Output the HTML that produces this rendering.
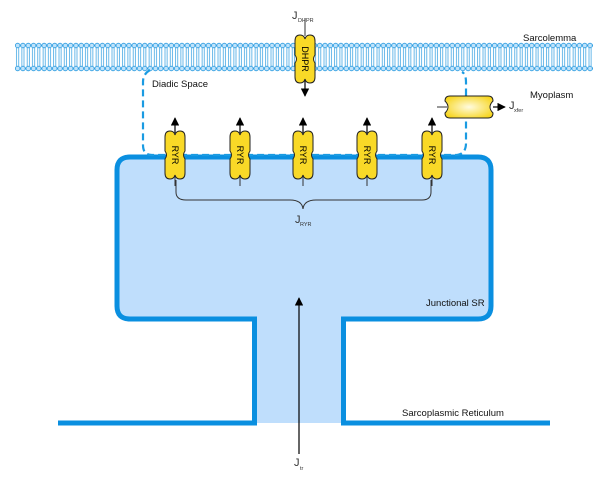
<!DOCTYPE html>
<html><head><style>
html,body{margin:0;padding:0;background:#fff;}
svg{display:block;font-family:"Liberation Sans",sans-serif;}
</style></head><body>
<svg width="615" height="486" viewBox="0 0 615 486" xmlns="http://www.w3.org/2000/svg">
<defs>
<pattern id="lip" x="15" y="0" width="5.3" height="486" patternUnits="userSpaceOnUse">
<circle cx="2.65" cy="45.5" r="2.3" fill="#bfe3fb" stroke="#2a9be0" stroke-width="0.8"/>
<circle cx="2.65" cy="68.5" r="2.3" fill="#bfe3fb" stroke="#2a9be0" stroke-width="0.8"/>
<path d="M1.6 48 V58 M3.7 48 V58 M1.6 56 V66 M3.7 56 V66" stroke="#2a9be0" stroke-width="0.7" fill="none"/>
</pattern>
<radialGradient id="yg" cx="0.5" cy="0.5" r="0.6"><stop offset="0" stop-color="#fffbe0"/><stop offset="1" stop-color="#f7d51c"/></radialGradient>
<marker id="ah" viewBox="0 0 10 10" refX="9" refY="5" markerWidth="7" markerHeight="7" orient="auto"><path d="M0 0 L10 5 L0 10z" fill="#000"/></marker>
<g id="chan"><path d="M-10 -18 Q-10 -24 -5 -24 Q-1 -24 0 -20 Q1 -24 5 -24 Q10 -24 10 -18 V-4 Q8.5 -2 8.5 0 Q8.5 2 10 4 V18 Q10 24 5 24 Q1 24 0 20 Q-1 24 -5 24 Q-10 24 -10 18 V4 Q-8.5 2 -8.5 0 Q-8.5 -2 -10 -4 Z" fill="#f9d927" stroke="#222" stroke-width="1"/></g>
</defs>
<!-- membrane -->
<rect x="15" y="42" width="578" height="30" fill="url(#lip)"/>
<!-- SR fill -->
<path d="M130 157 H478 Q491 157 491 170 V306 Q491 319 478 319 H343.5 V423 H254.5 V319 H130 Q117 319 117 306 V170 Q117 157 130 157 Z" fill="#bfdefc" stroke="none"/>
<path d="M130 157 H478 Q491 157 491 170 V306 Q491 319 478 319 H343.5 V423 H550" fill="none" stroke="#0a8fe0" stroke-width="5"/>
<path d="M58 423 H254.5 V319 H130 Q117 319 117 306 V170 Q117 157 130 157" fill="none" stroke="#0a8fe0" stroke-width="5"/>
<!-- dashed diadic -->
<path d="M150 70 Q143 74 143 82 V145 Q143 155 152 155 H455 Q466 155 466 143 V82 Q466 74 462 72" fill="none" stroke="#1a9be2" stroke-width="2.2" stroke-dasharray="7,4"/>
<!-- DHPR -->
<line x1="305" y1="18" x2="305" y2="36" stroke="#333" stroke-width="1"/>
<line x1="305" y1="80" x2="305" y2="96" stroke="#000" stroke-width="1.2" marker-end="url(#ah)"/>
<use href="#chan" x="305" y="59"/>
<text x="305" y="59" font-size="9" text-anchor="middle" transform="rotate(90 305 59)" dy="3">DHPR</text>
<text x="292" y="19" font-size="11" fill="#333">J</text><text x="298" y="22" font-size="5.5" fill="#333">DHPR</text>
<!-- RYRs -->
<g font-size="9" text-anchor="middle">
<g transform="translate(175,0)"><line x1="0" y1="176" x2="0" y2="186" stroke="#333"/><line x1="0" y1="133" x2="0" y2="118" stroke="#000" stroke-width="1.2" marker-end="url(#ah)"/><use href="#chan" y="155"/><text transform="translate(0,155) rotate(90)" dy="3">RYR</text></g>
<g transform="translate(240,0)"><line x1="0" y1="176" x2="0" y2="186" stroke="#333"/><line x1="0" y1="133" x2="0" y2="118" stroke="#000" stroke-width="1.2" marker-end="url(#ah)"/><use href="#chan" y="155"/><text transform="translate(0,155) rotate(90)" dy="3">RYR</text></g>
<g transform="translate(303,0)"><line x1="0" y1="176" x2="0" y2="186" stroke="#333"/><line x1="0" y1="133" x2="0" y2="118" stroke="#000" stroke-width="1.2" marker-end="url(#ah)"/><use href="#chan" y="155"/><text transform="translate(0,155) rotate(90)" dy="3">RYR</text></g>
<g transform="translate(367,0)"><line x1="0" y1="176" x2="0" y2="186" stroke="#333"/><line x1="0" y1="133" x2="0" y2="118" stroke="#000" stroke-width="1.2" marker-end="url(#ah)"/><use href="#chan" y="155"/><text transform="translate(0,155) rotate(90)" dy="3">RYR</text></g>
<g transform="translate(432,0)"><line x1="0" y1="176" x2="0" y2="186" stroke="#333"/><line x1="0" y1="133" x2="0" y2="118" stroke="#000" stroke-width="1.2" marker-end="url(#ah)"/><use href="#chan" y="155"/><text transform="translate(0,155) rotate(90)" dy="3">RYR</text></g>
</g>
<!-- brace -->
<path d="M176 180 V192 Q176 200 186 200 H290 Q302 200 303 209 Q304 200 316 200 H422 Q431 200 431 192 V180" fill="none" stroke="#333" stroke-width="1"/>
<text x="295" y="223" font-size="11" fill="#333">J</text><text x="300" y="226" font-size="5.5" fill="#333">RYR</text>
<!-- Jtr -->
<line x1="299" y1="454" x2="299" y2="298" stroke="#000" stroke-width="1.2" marker-end="url(#ah)"/>
<text x="294" y="466" font-size="11" fill="#333">J</text><text x="300" y="470" font-size="5.5" fill="#333">tr</text>
<!-- xfer -->
<line x1="437" y1="107" x2="447" y2="107" stroke="#333"/>
<path d="M450 96 H488 Q493 96 493 101 Q490 104 490 107 Q490 110 493 113 Q493 118 488 118 H450 Q445 118 445 113 Q448 110 448 107 Q448 104 445 101 Q445 96 450 96 Z" fill="url(#yg)" stroke="#222"/>
<line x1="493" y1="107" x2="505" y2="107" stroke="#000" stroke-width="1.2" marker-end="url(#ah)"/>
<text x="509" y="109" font-size="11" fill="#333">J</text><text x="514" y="112" font-size="5.5" fill="#333">xfer</text>
<!-- labels -->
<g font-size="9.5" fill="#111">
<text x="523" y="41">Sarcolemma</text>
<text x="152" y="87">Diadic Space</text>
<text x="530" y="98">Myoplasm</text>
<text x="426" y="306">Junctional SR</text>
<text x="402" y="416">Sarcoplasmic Reticulum</text>
</g>
</svg>
</body></html>
